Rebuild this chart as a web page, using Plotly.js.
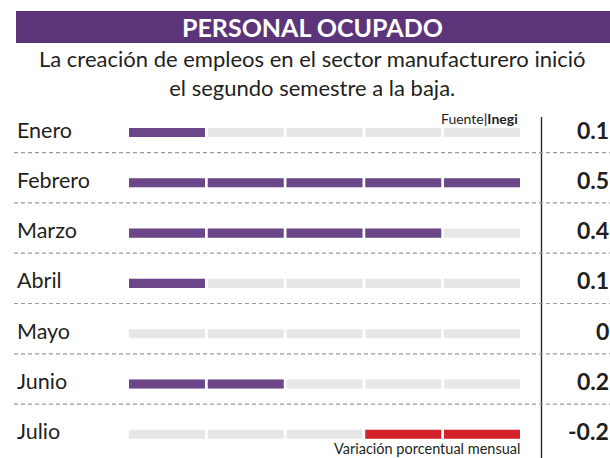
<!DOCTYPE html>
<html>
<head>
<meta charset="utf-8">
<script src="https://cdn.plot.ly/plotly-3.0.1.min.js"></script>
<style>html,body{margin:0;padding:0;background:#fff;}#chart{width:610px;height:458px;}</style>
</head>
<body>
<div id="chart"></div>
<script>
// ---- data ----
const months = ['Enero', 'Febrero', 'Marzo', 'Abril', 'Mayo', 'Junio', 'Julio'];
const values = [0.1, 0.5, 0.4, 0.1, 0, 0.2, -0.2];
const valueLabels = ['0.1', '0.5', '0.4', '0.1', '0', '0.2', '-0.2'];
const segmentStarts = [0, 0.1, 0.2, 0.3, 0.4];
const segmentStep = 0.1;
const titleText = 'PERSONAL OCUPADO';
const subtitleLines = ['La creación de empleos en el sector manufacturero inició', 'el segundo semestre a la baja.'];
const sourceText = 'Fuente<span style="color:#5c3479"><b>|</b></span><b>Inegi</b>';
const noteText = 'Variación porcentual mensual';

// ---- style ----
const W = 610, H = 458;
const FONT = 'Lato, "Open Sans", sans-serif';
const PURPLE = '#6b4688', BAND = '#5c3479', GRAY = '#e6e7e8', RED = '#d3222a', INK = '#231f20';
const PXU = 787.5;           // pixels per data unit
const X0 = 129;              // pixel of value 0
const segWidth = 0.0965;
const px = v => v / W, py = v => 1 - v / H;

// background segments
const bgY = [], bgX = [], bgBase = [];
months.forEach(m => segmentStarts.forEach(s => { bgY.push(m); bgX.push(segWidth); bgBase.push(s); }));

// coloured segments
const posY = [], posX = [], posBase = [], negY = [], negX = [], negBase = [];
months.forEach((m, i) => {
  const n = Math.round(Math.abs(values[i]) / segmentStep);
  if (values[i] > 0) {
    for (let k = 0; k < n; k++) { posY.push(m); posX.push(segWidth); posBase.push(segmentStarts[k]); }
  } else if (values[i] < 0) {
    for (let k = segmentStarts.length - n; k < segmentStarts.length; k++) { negY.push(m); negX.push(segWidth); negBase.push(segmentStarts[k]); }
  }
});

const barW = 0.18;
const traces = [
  {type: 'bar', orientation: 'h', y: bgY, x: bgX, base: bgBase, width: barW, marker: {color: GRAY}, hoverinfo: 'skip'},
  {type: 'bar', orientation: 'h', y: posY, x: posX, base: posBase, width: barW, marker: {color: PURPLE}, hoverinfo: 'skip'},
  {type: 'bar', orientation: 'h', y: negY, x: negX, base: negBase, width: barW, marker: {color: RED}, hoverinfo: 'skip'}
];

const shapes = [
  {type: 'rect', xref: 'paper', yref: 'paper', x0: px(16), x1: 1, y0: py(43), y1: py(11), fillcolor: BAND, line: {width: 0}, layer: 'below'},
  {type: 'line', xref: 'paper', yref: 'paper', x0: px(541.5), x1: px(541.5), y0: py(117), y1: 0, line: {color: INK, width: 1.3}}
];
for (let i = 0; i < months.length - 1; i++) {
  shapes.push({type: 'line', xref: 'paper', yref: 'y', x0: px(14), x1: 1, y0: i + 0.4, y1: i + 0.4, line: {color: '#9b9b9b', width: 1.2, dash: '4px,3px'}});
}

const annotations = [
  {text: '<b>' + titleText + '</b>', xref: 'paper', yref: 'paper', x: px(313), y: py(27.5), xanchor: 'center', yanchor: 'middle', showarrow: false, font: {family: FONT, size: 25, color: '#ffffff', weight: 900}},
  {text: subtitleLines.join('<br>'), xref: 'paper', yref: 'paper', x: px(313), y: py(72.5), xanchor: 'center', yanchor: 'middle', align: 'center', showarrow: false, font: {family: FONT, size: 22, color: INK}},
  {text: sourceText, xref: 'paper', yref: 'paper', x: px(520), y: py(118), xanchor: 'right', yanchor: 'middle', showarrow: false, font: {family: FONT, size: 14, color: INK}},
  {text: noteText, xref: 'paper', yref: 'paper', x: px(522), y: py(448), xanchor: 'right', yanchor: 'middle', showarrow: false, font: {family: FONT, size: 14.5, color: INK}}
];
months.forEach((m, i) => {
  annotations.push({text: m, xref: 'paper', yref: 'y', x: px(15), y: m, yshift: 3, xanchor: 'left', yanchor: 'middle', showarrow: false, font: {family: FONT, size: 21.5, color: INK}});
  annotations.push({text: '<b>' + valueLabels[i] + '</b>', xref: 'paper', yref: 'y', x: px(611), y: m, yshift: 3, xanchor: 'right', yanchor: 'middle', showarrow: false, font: {family: FONT, size: 23, color: INK, weight: 900}});
});

const layout = {
  width: W, height: H,
  margin: {l: 0, r: 0, t: 0, b: 0, pad: 0},
  paper_bgcolor: '#ffffff', plot_bgcolor: 'rgba(0,0,0,0)',
  barmode: 'overlay', showlegend: false,
  xaxis: {range: [-X0 / PXU, (W - X0) / PXU], visible: false, fixedrange: true},
  yaxis: {type: 'category', categoryorder: 'array', categoryarray: months, range: [6.471, -2.634], visible: false, fixedrange: true},
  shapes: shapes, annotations: annotations
};

Plotly.newPlot('chart', traces, layout, {staticPlot: true, displayModeBar: false});
</script>
</body>
</html>
